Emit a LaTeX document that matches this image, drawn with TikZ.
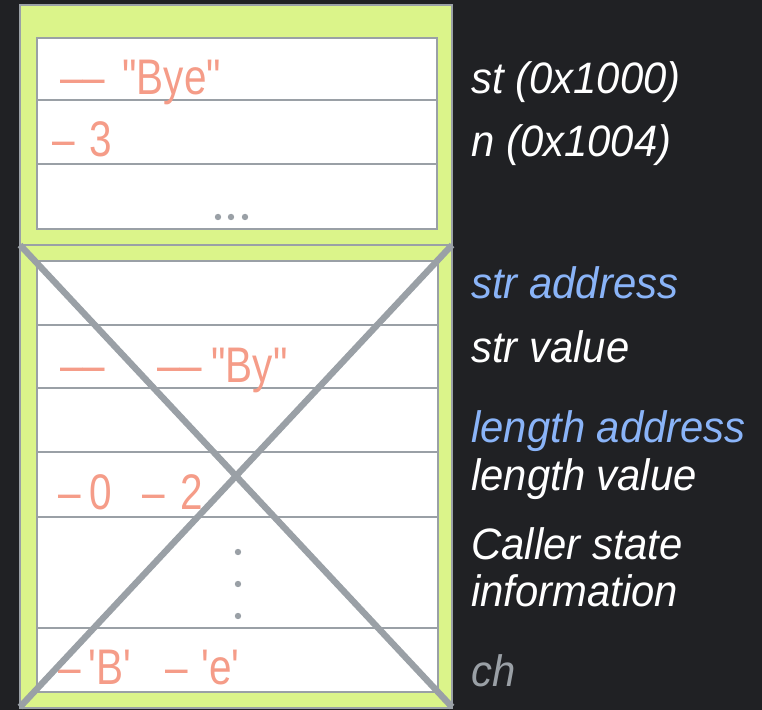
\documentclass[tikz,border=0pt]{standalone}
\usepackage{fontspec}
\setmainfont{Liberation Sans}
\newfontfamily\valfont[FakeStretch=0.81]{Liberation Sans}
\newfontfamily\labfont[FakeStretch=0.95]{Liberation Sans}

\definecolor{bgdark}{HTML}{202124}
\definecolor{limefill}{HTML}{DBF48A}
\definecolor{rulegray}{HTML}{9AA0A6}
\definecolor{salmon}{HTML}{F59C88}
\definecolor{addrblue}{HTML}{8AB4F8}

\begin{document}
\begin{tikzpicture}[x=0.5pt, y=-0.5pt,
	every node/.style={inner sep=0pt, anchor=base west},
	rule/.style={draw=rulegray, line width=1pt},
	cross/.style={draw=rulegray, line width=3.2pt},
	val/.style={text=salmon, font=\valfont\fontsize{25}{28}\selectfont},
	lab/.style={text=white, font=\labfont\itshape\fontsize{22}{26}\selectfont}]
	\fill[bgdark] (0,0) rectangle (762,710);
	\useasboundingbox (0,0) rectangle (762,710);
	% caller frame
	\fill[limefill] (20,5) rectangle (452,245); \draw[rule] (20,5) rectangle (452,245);
	\fill[white] (37,38) rectangle (437,229);
	\foreach \y in {100,164} {\draw[rule] (37,\y) -- (437,\y);}
	\draw[rule] (37,38) rectangle (437,229);
	\foreach \x in {218,231,245} {\fill[rulegray] (\x,217) circle[radius=1.6pt];}
	% callee frame
	\fill[limefill] (20,245) rectangle (452,708); \draw[rule] (20,245) rectangle (452,708);
	\fill[white] (37,261) rectangle (438,692);
	\foreach \y in {325,388,452,517,628} {\draw[rule] (37,\y) -- (438,\y);}
	\draw[rule] (37,261) rectangle (438,692);
	\foreach \y in {552,584,616} {\fill[rulegray] (238,\y) circle[radius=1.6pt];}
	% values
	\node[val] (stdash) at (60,95) {––}; \node[val] (stval) at (122,95) {"Bye"};
	\node[val] (ndash) at (52,157) {–}; \node[val] (nval) at (89,157) {3};
	\node[val] (strdash) at (60,383) {––}; \node[val] (strdashb) at (157,383) {––}; \node[val] (strval) at (211,383) {"By"};
	\node[val] (lendash) at (58,510) {–}; \node[val] (lenval) at (89,510) {0};
	\node[val] (lendashb) at (142,510) {–}; \node[val] (lenvalb) at (180,510) {2};
	\node[val] (chdash) at (58,685) {–}; \node[val] (chval) at (88,685) {'B'};
	\node[val] (chdashb) at (165,685) {–}; \node[val] (chvalb) at (201,685) {'e'};
	% labels
	\node[lab] (st) at (471,94) {st (0x1000)};
	\node[lab] (n) at (471,157) {n (0x1004)};
	\node[lab, text=addrblue] (straddr) at (471,299) {str address};
	\node[lab] (strv) at (471,363) {str value};
	\node[lab, text=addrblue] (lenaddr) at (471,443) {length address};
	\node[lab] (lenv) at (471,491) {length value};
	\node[lab] (caller) at (471,560) {Caller state};
	\node[lab] (info) at (471,607) {information};
	\node[lab, text=rulegray] (ch) at (471,687) {ch};
	% popped frame
	\coordinate (fnw) at (20,245); \coordinate (fne) at (452,245);
	\coordinate (fsw) at (20,707); \coordinate (fse) at (452,707);
	\draw[cross] (fnw) -- (fse);
	\draw[cross] (fne) -- (fsw);
\end{tikzpicture}
\end{document}
